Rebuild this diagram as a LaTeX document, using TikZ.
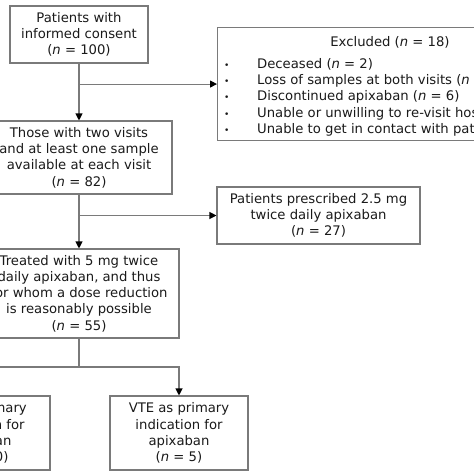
\documentclass[tikz,border=0pt]{standalone}
\usepackage{fontspec}
\setmainfont{DejaVu Sans}
\usetikzlibrary{arrows.meta}
\definecolor{linegray}{HTML}{7A7A7A}
\definecolor{txt}{HTML}{1A1A1A}
\tikzset{
  box/.style={draw=linegray, line width=1.1pt, fill=white, align=center, inner sep=0pt, text=txt,
    font=\fontsize{13.2}{16.3}\selectfont},
  conn/.style={draw=linegray, line width=1.1pt},
  arr/.style={conn, -{Triangle[length=7pt,width=7pt,color=black]}},
  plain/.style={inner sep=0pt, text=txt, font=\fontsize{13.2}{16.3}\selectfont}
}
\begin{document}
\begin{tikzpicture}[x=1pt,y=-1pt]
\useasboundingbox (0,0) rectangle (474,474);
\clip (0,0) rectangle (474,474);
\fill[white] (0,0) rectangle (474,474);

\node[box, minimum width=138, minimum height=57] (consent) at (79,34.5)
  {Patients with\\informed consent\\(\textit{n} = 100)};
\node[box, minimum width=346, minimum height=113, anchor=north west] (excl) at (217,27) {};
\node[plain, anchor=base] (excltitle) at (390,46) {Excluded (\textit{n} = 18)};
\node[plain, anchor=north west] (excllist) at (224,56.6)
  {\begin{tabular}{@{}p{33pt}@{}l@{}}
   {\fontsize{9}{9}\selectfont •} & Deceased (\textit{n} = 2)\\
   {\fontsize{9}{9}\selectfont •} & Loss of samples at both visits (\textit{n} = 5)\\
   {\fontsize{9}{9}\selectfont •} & Discontinued apixaban (\textit{n} = 6)\\
   {\fontsize{9}{9}\selectfont •} & Unable or unwilling to re-visit hospital (\textit{n} = 3)\\
   {\fontsize{9}{9}\selectfont •} & Unable to get in contact with patient (\textit{n} = 2)
   \end{tabular}};

\node[box, minimum width=186, minimum height=73] (visits) at (79,157.5)
  {Those with two visits\\and at least one sample\\available at each visit\\(\textit{n} = 82)};
\node[box, minimum width=203, minimum height=57] (lowdose) at (318.5,215.5)
  {Patients prescribed 2.5 mg\\twice daily apixaban\\(\textit{n} = 27)};
\node[box, minimum width=200, minimum height=89] (treated) at (79,293.5)
  {Treated with 5 mg twice\\daily apixaban, and thus\\for whom a dose reduction\\is reasonably possible\\(\textit{n} = 55)};
\node[box, minimum width=138, minimum height=74] (af) at (-19,433)
  {AF as primary\\indication for\\apixaban\\(\textit{n} = 50)};
\node[box, minimum width=138, minimum height=74] (vte) at (179,433)
  {VTE as primary\\indication for\\apixaban\\(\textit{n} = 5)};

\coordinate (j1) at (consent.south |- excl.west);
\coordinate (j2) at (visits.south |- lowdose.west);
\coordinate (j3) at (79,367);

\draw[arr] (consent.south) -- (visits.north);
\draw[arr] (j1) -- (excl.west);
\draw[arr] (visits.south) -- (treated.north);
\draw[arr] (j2) -- (lowdose.west);
\draw[conn] (treated.south) -- (j3);
\draw[arr] (j3) -| (af.north);
\draw[arr] (j3) -| (vte.north);
\end{tikzpicture}
\end{document}
